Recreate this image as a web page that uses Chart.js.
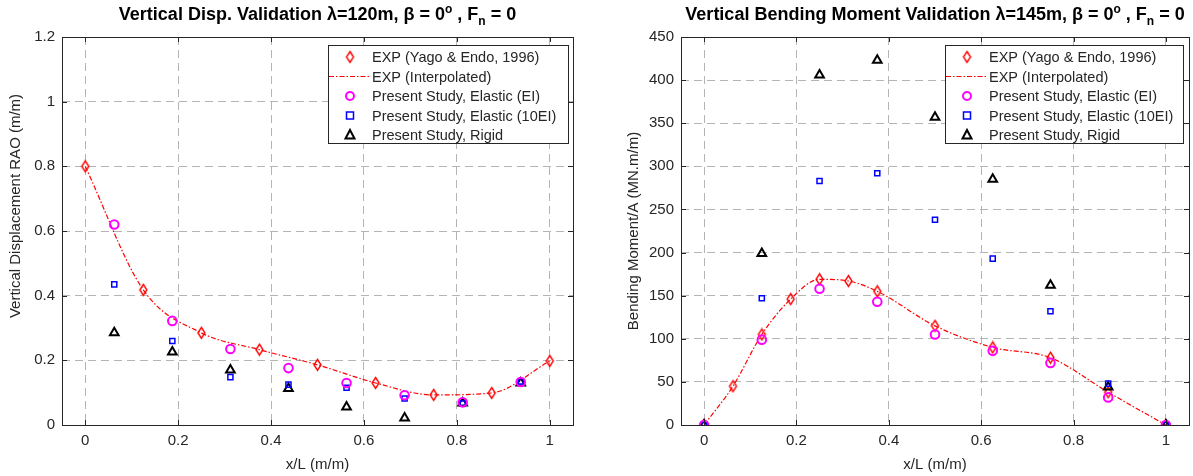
<!DOCTYPE html>
<html>
<head>
<meta charset="utf-8">
<script src="https://cdn.jsdelivr.net/npm/chart.js@4.4.0/dist/chart.umd.min.js"></script>
<style>
  body { margin: 0; background: #fff; width: 1193px; height: 476px; overflow: hidden; position: relative; }
  .panel { position: absolute; top: 0; height: 476px; }
</style>
</head>
<body>
<div class="panel" style="left:0;width:596px"><canvas id="dispChart" width="596" height="476"></canvas></div>
<div class="panel" style="left:596px;width:597px"><canvas id="momentChart" width="597" height="476"></canvas></div>
<script>
// data
const seriesNames = ['EXP (Yago & Endo, 1996)', 'EXP (Interpolated)', 'Present Study, Elastic (EI)', 'Present Study, Elastic (10EI)', 'Present Study, Rigid'];
const xTicks = [0, 0.2, 0.4, 0.6, 0.8, 1];

// vertical displacement
const dispExpX = [0, 0.125, 0.25, 0.375, 0.5, 0.625, 0.75, 0.875, 1];
const dispExp = [0.8, 0.418, 0.285, 0.233, 0.186, 0.13, 0.093, 0.099, 0.198];
const dispStudyX = [0.0625, 0.1875, 0.3125, 0.4375, 0.5625, 0.6875, 0.8125, 0.9375];
const dispElastic = [0.62, 0.322, 0.235, 0.176, 0.13, 0.092, 0.07, 0.133];
const dispElastic10 = [0.435, 0.26, 0.148, 0.125, 0.115, 0.082, 0.066, 0.135];
const dispRigid = [0.285, 0.226, 0.17, 0.113, 0.056, 0.022, 0.068, 0.13];
const dispYTicks = [0, 0.2, 0.4, 0.6, 0.8, 1, 1.2];

// vertical bending moment
const momExpX = [0, 0.0625, 0.125, 0.1875, 0.25, 0.3125, 0.375, 0.5, 0.625, 0.75, 0.875, 1];
const momExp = [0, 45, 105, 146, 169, 167, 155, 115, 90, 78, 38, 0];
const momStudyX = [0, 0.125, 0.25, 0.375, 0.5, 0.625, 0.75, 0.875, 1];
const momElastic = [0, 99, 158, 143, 105, 86, 72, 32, 0];
const momElastic10 = [0, 147, 283, 292, 238, 193, 132, 48, 0];
const momRigid = [0, 199, 406, 423, 357, 285, 162, 44, 0];
const momYTicks = [0, 50, 100, 150, 200, 250, 300, 350, 400, 450];

const FONT = '"Liberation Sans", Arial, sans-serif';
const TXT = '#262626';

const pts = (xs, ys) => xs.map((x, i) => ({ x: x, y: ys[i] }));

// tall thin diamond like matlab's 'd' marker
const diamond = (() => {
    const c = document.createElement('canvas');
    c.width = 11; c.height = 14;
    const g = c.getContext('2d');
    g.strokeStyle = '#ff0000';
    g.lineWidth = 1.4;
    g.beginPath();
    g.moveTo(5.5, 1.5); g.lineTo(9, 7); g.lineTo(5.5, 12.5); g.lineTo(2, 7); g.closePath();
    g.stroke();
    return c;
})();

const buildDatasets = (expX, exp, stX, el, el10, rig) => [
    { label: seriesNames[0], data: pts(expX, exp), showLine: false, pointStyle: diamond, pointRadius: 6, order: 1 },
    { label: seriesNames[1], data: pts(expX, exp), showLine: true, borderColor: '#ff0000', borderWidth: 1.2,
      borderDash: [5, 2, 1.5, 2], pointRadius: 0, cubicInterpolationMode: 'monotone', order: 2 },
    { label: seriesNames[2], data: pts(stX, el), showLine: false, pointStyle: 'circle', pointRadius: 4.3,
      borderColor: '#ff00ff', backgroundColor: 'transparent', pointBorderWidth: 2, order: 0 },
    { label: seriesNames[3], data: pts(stX, el10), showLine: false, pointStyle: 'rect', pointRadius: 3.6,
      borderColor: '#0000ff', backgroundColor: 'transparent', pointBorderWidth: 1.5, order: 0 },
    { label: seriesNames[4], data: pts(stX, rig), showLine: false, pointStyle: 'triangle', pointRadius: 5,
      borderColor: '#000000', backgroundColor: 'transparent', pointBorderWidth: 2, order: 0 }
];

// draws legend marker
const drawMarker = (ctx, ds, x, y) => {
    ctx.save();
    ctx.strokeStyle = ds.borderColor;
    ctx.lineWidth = ds.pointBorderWidth || 1;
    if (ds.pointStyle === diamond) {
        ctx.drawImage(diamond, x - 5.5, y - 7);
    } else if (ds.pointStyle === 'circle') {
        ctx.beginPath(); ctx.arc(x, y, 4, 0, Math.PI * 2); ctx.stroke();
    } else if (ds.pointStyle === 'rect') {
        ctx.strokeRect(x - 3.5, y - 3.5, 7, 7);
    } else if (ds.pointStyle === 'triangle') {
        ctx.beginPath(); ctx.moveTo(x, y - 5); ctx.lineTo(x + 4.5, y + 3.5); ctx.lineTo(x - 4.5, y + 3.5); ctx.closePath(); ctx.stroke();
    }
    ctx.restore();
};

const matlabFrame = {
    id: 'matlabFrame',
    afterDraw(chart, args, opts) {
        const ctx = chart.ctx;
        const a = chart.chartArea;
        ctx.save();
        // box
        ctx.strokeStyle = '#262626';
        ctx.lineWidth = 1;
        ctx.strokeRect(a.left + 0.5, a.top + 0.5, a.right - a.left, a.bottom - a.top);
        // inward ticks
        ctx.beginPath();
        chart.scales.x.ticks.forEach(t => {
            const px = Math.round(chart.scales.x.getPixelForValue(t.value)) + 0.5;
            ctx.moveTo(px, a.bottom); ctx.lineTo(px, a.bottom - 5);
            ctx.moveTo(px, a.top); ctx.lineTo(px, a.top + 5);
        });
        chart.scales.y.ticks.forEach(t => {
            const py = Math.round(chart.scales.y.getPixelForValue(t.value)) + 0.5;
            ctx.moveTo(a.left, py); ctx.lineTo(a.left + 5, py);
            ctx.moveTo(a.right, py); ctx.lineTo(a.right - 5, py);
        });
        ctx.stroke();

        // y axis label (placed like the original, not quite centred)
        ctx.save();
        ctx.translate(opts.yLabelX, opts.yLabelY);
        ctx.rotate(-Math.PI / 2);
        ctx.font = '15px ' + FONT;
        ctx.fillStyle = TXT;
        ctx.textAlign = 'center';
        ctx.textBaseline = 'middle';
        ctx.fillText(opts.yLabel, 0, 0);
        ctx.restore();

        // title with sub/superscripts
        const parts = opts.title;
        ctx.fillStyle = '#000';
        ctx.textBaseline = 'alphabetic';
        let total = 0;
        parts.forEach(p => { ctx.font = 'bold ' + p.size + 'px ' + FONT; total += ctx.measureText(p.t).width; });
        let tx = (a.left + a.right) / 2 - total / 2;
        parts.forEach(p => {
            ctx.font = 'bold ' + p.size + 'px ' + FONT;
            ctx.fillText(p.t, tx, 20 + (p.dy || 0));
            tx += ctx.measureText(p.t).width;
        });

        // legend
        const lw = opts.legendWidth;
        const bx = a.right - opts.legendGap - lw;
        const by = a.top + 8;
        ctx.fillStyle = '#fff';
        ctx.fillRect(bx, by, lw, 98);
        ctx.strokeStyle = '#262626';
        ctx.lineWidth = 1;
        ctx.strokeRect(bx + 0.5, by + 0.5, lw, 98);
        ctx.font = '14.5px ' + FONT;
        ctx.textBaseline = 'middle';
        chart.data.datasets.forEach((ds, i) => {
            const yy = by + 12 + i * 19.5;
            if (ds.showLine) {
                ctx.save();
                ctx.strokeStyle = ds.borderColor;
                ctx.lineWidth = ds.borderWidth;
                ctx.setLineDash(ds.borderDash);
                ctx.beginPath(); ctx.moveTo(bx + 1, yy); ctx.lineTo(bx + 43, yy); ctx.stroke();
                ctx.restore();
            } else {
                drawMarker(ctx, ds, bx + 22, yy);
            }
            ctx.fillStyle = TXT;
            ctx.fillText(ds.label, bx + 44, yy + 1);
        });
        ctx.restore();
    }
};

const makeChart = (id, o) => {
    const ctx = document.getElementById(id).getContext('2d');
    return new Chart(ctx, {
        type: 'scatter',
        data: { datasets: o.datasets },
        options: {
            responsive: false,
            animation: false,
            layout: { autoPadding: false, padding: { top: 37, right: o.padRight, bottom: 0, left: 0 } },
            plugins: {
                legend: { display: false },
                title: { display: false },
                tooltip: { enabled: false },
                matlabFrame: {
                    title: o.title, legendWidth: o.legendWidth, legendGap: o.legendGap,
                    yLabel: o.yLabel, yLabelX: o.yLabelX, yLabelY: o.yLabelY
                }
            },
            scales: {
                x: {
                    type: 'linear',
                    min: -0.05, max: 1.05,
                    afterBuildTicks: s => { s.ticks = xTicks.map(v => ({ value: v })); },
                    afterFit: s => { s.height = 51; },
                    grid: { color: '#b4b4b4', lineWidth: 1, drawTicks: false },
                    border: { display: false, dash: [8, 5] },
                    ticks: { color: TXT, font: { family: FONT, size: 15 }, padding: 7, callback: v => String(v) },
                    title: { display: true, text: 'x/L (m/m)', color: TXT, font: { family: FONT, size: 15 }, padding: { top: 0, bottom: 2 } }
                },
                y: {
                    type: 'linear',
                    min: o.yTicks[0], max: o.yTicks[o.yTicks.length - 1],
                    afterBuildTicks: s => { s.ticks = o.yTicks.map(v => ({ value: v })); },
                    afterFit: s => { s.width = o.yWidth; },
                    grid: { color: '#b4b4b4', lineWidth: 1, drawTicks: false },
                    border: { display: false, dash: [8, 5] },
                    ticks: { color: TXT, font: { family: FONT, size: 15 }, padding: 7, callback: v => String(v) }
                }
            }
        },
        plugins: [matlabFrame]
    });
};

const titleParts = (head) => [
    { t: head + ' \u03b2 = 0', size: 18 },
    { t: 'o', size: 12, dy: -7 },
    { t: ' , F', size: 18 },
    { t: 'n', size: 12, dy: 5 },
    { t: ' = 0', size: 18 }
];

document.addEventListener('DOMContentLoaded', () => {
    makeChart('dispChart', {
        datasets: buildDatasets(dispExpX, dispExp, dispStudyX, dispElastic, dispElastic10, dispRigid),
        yTicks: dispYTicks,
        yLabel: 'Vertical Displacement RAO (m/m)',
        yLabelX: 16, yLabelY: 206,
        yWidth: 62, padRight: 23,
        legendWidth: 240, legendGap: 5,
        title: titleParts('Vertical Disp. Validation \u03bb=120m,')
    });
    makeChart('momentChart', {
        datasets: buildDatasets(momExpX, momExp, momStudyX, momElastic, momElastic10, momRigid),
        yTicks: momYTicks,
        yLabel: 'Bending Moment/A (MN.m/m)',
        yLabelX: 38, yLabelY: 231,
        yWidth: 85, padRight: 4,
        legendWidth: 238, legendGap: 6,
        title: titleParts('Vertical Bending Moment Validation \u03bb=145m,')
    });
});
</script>
</body>
</html>
